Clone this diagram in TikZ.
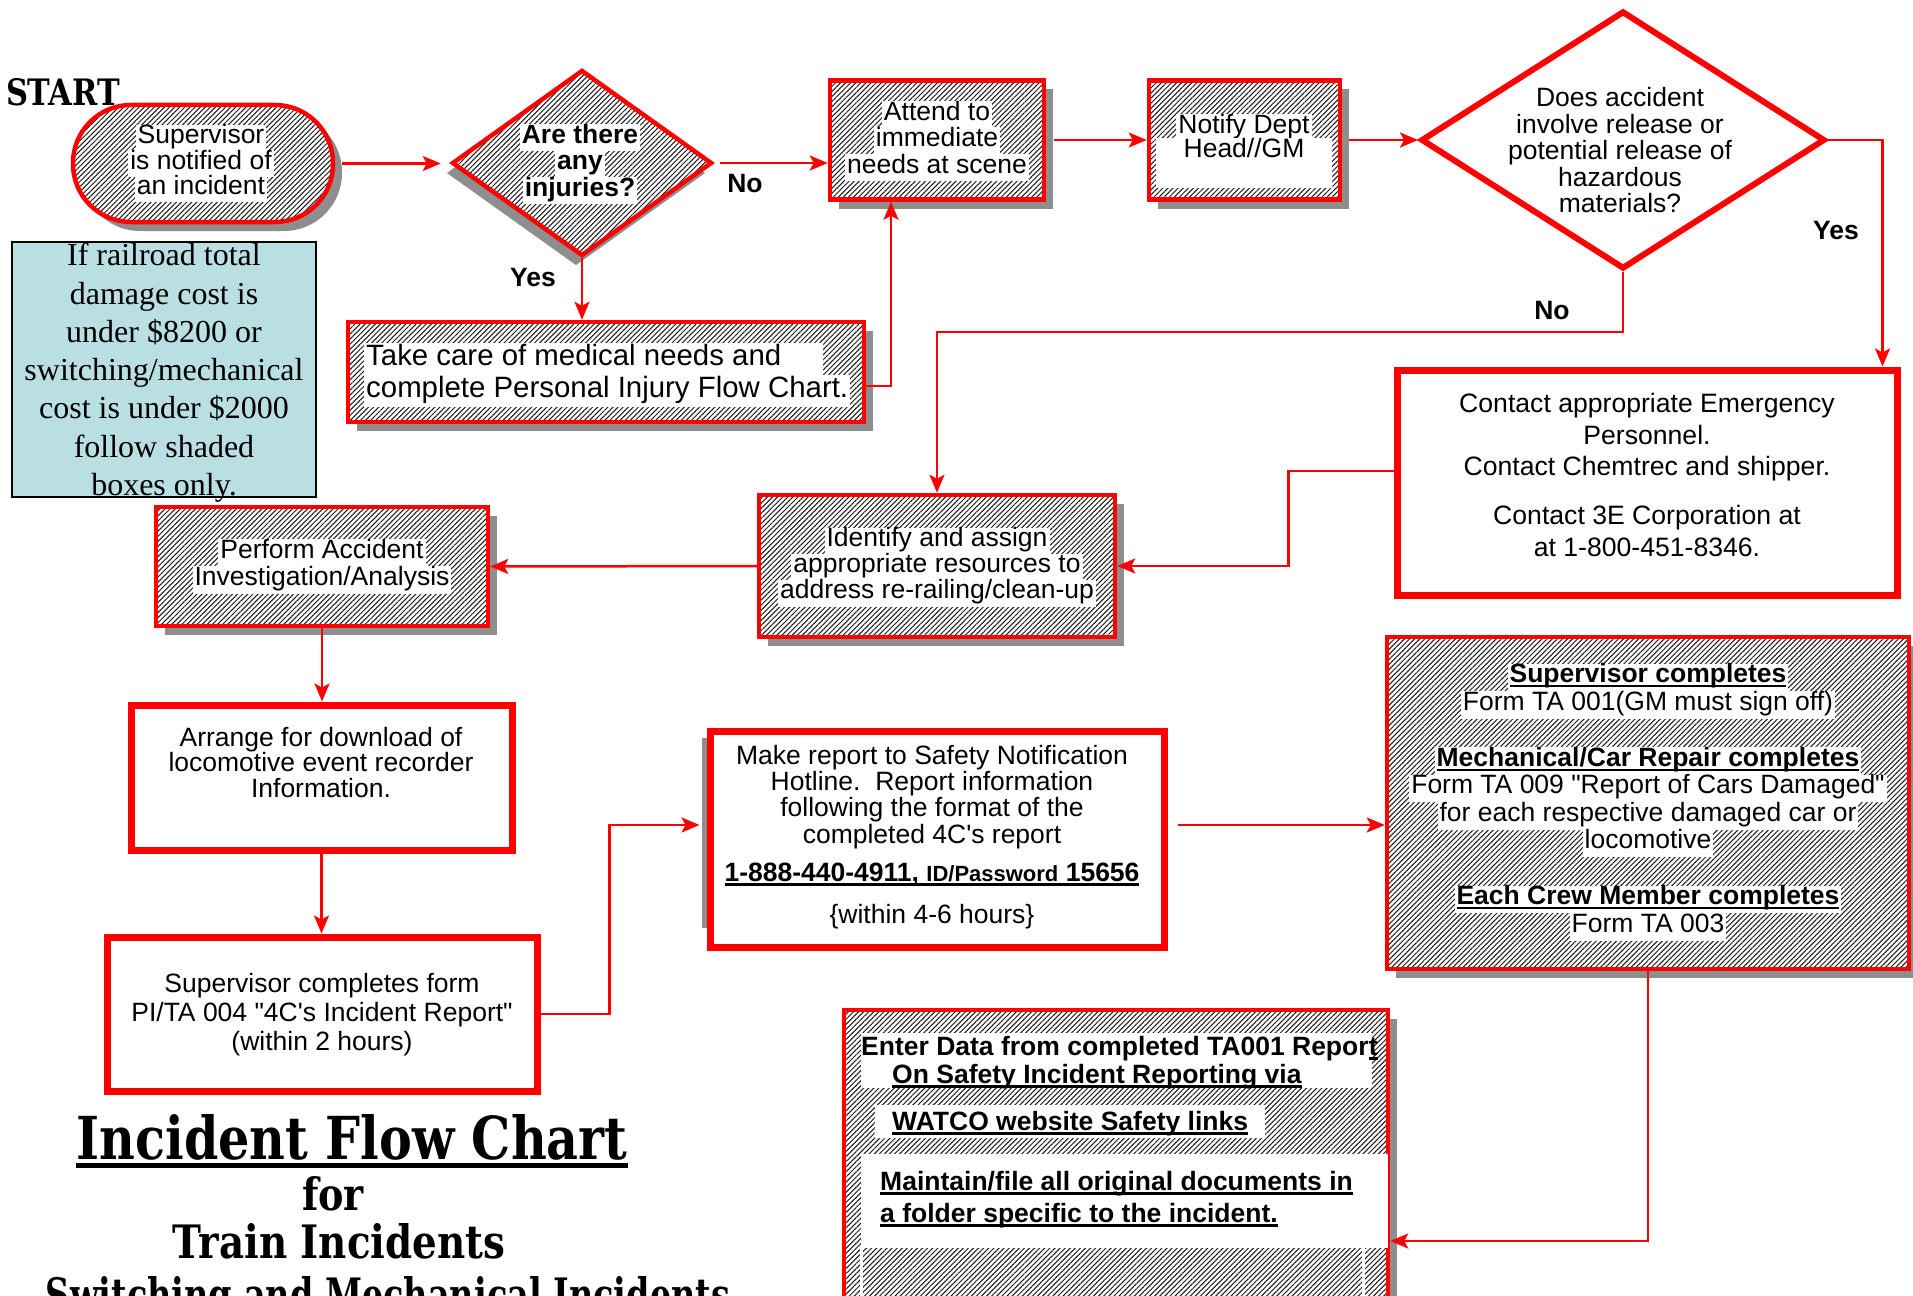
\documentclass[tikz,border=0pt]{standalone}
\usepackage{fontspec}
\setmainfont{Liberation Sans}
\newfontfamily\timesf{Liberation Serif}
\newfontfamily\titlef{DejaVu Serif}
\usepackage{graphicx}
\usetikzlibrary{shapes.geometric,shadows,patterns.meta,arrows.meta,calc}
\definecolor{rd}{RGB}{255,0,0}
\definecolor{shgray}{RGB}{142,142,142}
\definecolor{cyanbg}{RGB}{185,223,227}
\definecolor{hatchc}{RGB}{25,25,25}
\newcommand\wb[1]{{\fboxsep=0pt\colorbox{white}{\hspace{2pt}\strut#1\hspace{2pt}}}}
\newcommand\ulx[1]{{\setbox0=\hbox{#1}\rlap{\rule[-4.5pt]{\wd0}{2.2pt}}\box0}}
\newcommand\setfs[2]{\fontsize{#1}{#2}\selectfont\lineskiplimit=-60pt\relax}
\tikzset{
  shd/.style={drop shadow={shadow xshift=9pt,shadow yshift=-9pt,fill=shgray,opacity=1}},
  shdl/.style={drop shadow={shadow xshift=-6pt,shadow yshift=-10pt,fill=shgray,opacity=1}},
  hatch/.style={preaction={fill=white},pattern={Lines[angle=45,distance=3.6pt,line width=1.0pt]},pattern color=hatchc},
  hbox/.style={rectangle, draw=rd, line width=4.5pt, shd, hatch, inner sep=0pt},
  wbox/.style={rectangle, draw=rd, line width=7pt, fill=white, inner sep=0pt},
  txt/.style={inner sep=0pt, align=center, font=\setfs{26.5}{26.5}},
  lbl/.style={inner sep=0pt, font=\setfs{26.5}{26.5}\bfseries},
  conn/.style={draw=rd, line width=2.5pt, -{Stealth[length=18pt,width=15pt,inset=4pt]}},
  ttl/.style={inner sep=0pt, font=\titlef\bfseries\setfs{40}{40}},
}
\begin{document}
\begin{tikzpicture}[x=1pt,y=-1pt]
\useasboundingbox (0,0) rectangle (1913,1295);
\clip (0,0) rectangle (1913,1295);

% ---------- boxes ----------
\node[hbox, rounded corners=58pt, minimum width=260pt, minimum height=117pt] (sup) at (203,163.5) {};
\node[diamond, draw=rd, line width=4.5pt, shdl, hatch, minimum width=260pt, minimum height=186pt, inner sep=0pt] (inj) at (582,163) {};
\node[hbox, minimum width=214pt, minimum height=119pt] (attend) at (937,140) {};
\node[hbox, minimum width=191pt, minimum height=119pt] (notify) at (1244.5,140) {};
\node[diamond, draw=rd, line width=6pt, fill=white, minimum width=404pt, minimum height=258pt, inner sep=0pt] (haz) at (1623,140) {};
\node[hbox, minimum width=516pt, minimum height=100pt] (take) at (606,372) {};
\node[rectangle, draw=black, line width=2pt, fill=cyanbg, minimum width=304pt, minimum height=255pt] (note) at (164,369.5) {};
\node[wbox, minimum width=500pt, minimum height=225pt] (contact) at (1647,482.5) {};
\node[hbox, minimum width=356pt, minimum height=142pt] (ident) at (937,566) {};
\node[hbox, minimum width=332pt, minimum height=119pt] (perform) at (322,566.5) {};
\node[wbox, minimum width=381pt, minimum height=145pt] (arrange) at (321.5,777.5) {};
\node[wbox, minimum width=430pt, minimum height=154pt] (supform) at (322,1014) {};
\fill[shgray] (702,738) rectangle (709,928);
\node[wbox, minimum width=454pt, minimum height=216pt] (report) at (937,839) {};
\node[hbox, minimum width=522pt, minimum height=332pt] (forms) at (1648,803) {};
\node[hbox, minimum width=544pt, minimum height=310pt] (enter) at (1116,1165) {};

% white areas inside the data-entry box
\fill[white] (861,1033) rectangle (1372,1088);
\fill[white] (875,1105) rectangle (1265,1138);
\fill[white] (861,1154) rectangle (1388,1248);
\fill[white] (860,1248) rectangle (862.5,1300);
\fill[white] (1362,1248) rectangle (1364.5,1300);

% ---------- texts ----------
\node[ttl, anchor=base] (start) at (63,106) {\resizebox{114pt}{27pt}{START}};

\node[txt, font=\setfs{26.5}{25.5}] (supT) at (201,163.5) {\wb{Supervisor}\\\wb{is notified of}\\\wb{an incident}};
\node[txt, font=\setfs{26.5}{26.5}\bfseries] (injT) at (580,164) {\wb{Are there}\\\wb{any}\\\wb{injuries?}};
\node[txt] (attT) at (937,141) {\wb{Attend to}\\\wb{immediate}\\\wb{needs at scene}};
\node[txt, font=\setfs{26.5}{24}] (notT) at (1244,151) {\wb{Notify Dept}\\\wb{\makebox[172pt]{Head//GM}}\\\wb{\hspace{172pt}}};
\node[txt] (hazT) at (1620,154) {\strut Does accident\\ \strut involve release or\\ \strut potential release of\\ \strut hazardous\\ \strut materials?};
\node[inner sep=0pt, align=left, anchor=west, font=\setfs{29.4}{32}] (takeT) at (364,375) {\wb{Take care of medical needs and\hspace{40pt}}\\\wb{complete Personal Injury Flow Chart.}};
\node[inner sep=0pt, align=center, font=\timesf\setfs{32}{38.3}] (noteT) at (164,373) {\strut If railroad total\\ \strut damage cost is\\ \strut under \$8200 or\\ \strut switching/mechanical\\ \strut cost is under \$2000\\ \strut follow shaded\\ \strut boxes only.};
\node[txt, font=\setfs{26.6}{31.5}] (contT) at (1647,478) {\strut Contact appropriate Emergency\\ \strut Personnel.\\ \strut Contact Chemtrec and shipper.\\[17.5pt] \strut Contact 3E Corporation at\\ \strut at 1-800-451-8346.};
\node[txt, font=\setfs{26.5}{26}] (idT) at (937,567) {\wb{Identify and assign}\\\wb{appropriate resources to}\\\wb{address re-railing/clean-up}};
\node[txt, font=\setfs{26.5}{27}] (perT) at (322,566.5) {\wb{Perform Accident}\\\wb{Investigation/Analysis}};
\node[txt, font=\setfs{26.5}{25.5}] (arrT) at (321,766) {\strut Arrange for download of\\ \strut locomotive event recorder\\ \strut Information.};
\node[txt, font=\setfs{26.5}{29}] (supfT) at (322,1016) {\strut Supervisor completes form\\ \strut PI/TA 004 \textquotedbl 4C\textquotesingle s Incident Report\textquotedbl\\ \strut (within 2 hours)};
\node[txt, font=\setfs{26.5}{26.3}] (repT) at (932,838) {\strut Make report to Safety Notification\\ \strut Hotline.\ \ Report information\\ \strut following the format of the\\ \strut completed 4C\textquotesingle s report\\[11.7pt] \strut{\bfseries\ulx{1-888-440-4911, {\setfs{22}{22}ID/Password} 15656}}\\[15.7pt] \strut\{within 4-6 hours\}};
\node[txt, font=\setfs{26.5}{27.5}] (formsT) at (1648,802) {\wb{\bfseries\ulx{Supervisor completes}}\\\wb{Form TA 001(GM must sign off)}\\[28.5pt]\wb{\bfseries\ulx{Mechanical/Car Repair completes}}\\\wb{Form TA 009 \textquotedbl Report of Cars Damaged\textquotedbl}\\\wb{for each respective damaged car or}\\\wb{locomotive}\\[28.5pt]\wb{\bfseries\ulx{Each Crew Member completes}}\\\wb{Form TA 003}};

\node[lbl, anchor=base west] (e1) at (861,1055) {Enter Data from completed TA001 Repor\ulx{t}};
\node[lbl, anchor=base west] (e2) at (892,1083) {\ulx{On Safety Incident Reporting via}};
\node[lbl, anchor=base west] (e3) at (892,1130) {\ulx{WATCO website Safety links}};
\node[lbl, anchor=base west] (e4) at (880,1190) {\ulx{Maintain/file all original documents in}};
\node[lbl, anchor=base west] (e5) at (880,1222) {\ulx{a folder specific to the incident.}};

% labels
\node[lbl] (lNo1) at (745,184) {No};
\node[lbl] (lYes1) at (533,278) {Yes};
\node[lbl] (lYes2) at (1836,231) {Yes};
\node[lbl] (lNo2) at (1552,311) {No};

% title
\node[ttl, anchor=base] (title) at (352,1159) {\resizebox{551pt}{45pt}{Incident Flow Chart}};
\draw[line width=5pt] ([yshift=-6.5pt]title.base west) -- ([yshift=-6.5pt]title.base east);
\node[ttl, anchor=base] (for) at (333,1210) {\resizebox{62pt}{34pt}{for}};
\node[ttl, anchor=base] (train) at (339,1258) {\resizebox{333pt}{35pt}{Train Incidents}};
\node[ttl, anchor=base] (switch) at (388,1311) {\resizebox{684pt}{35pt}{Switching and Mechanical Incidents}};

% ---------- connectors ----------
\draw[conn, shorten <=8pt, shorten >=9pt] (sup.east) -- (sup.east -| inj.west);
\draw[conn, shorten <=6pt] (inj.east) -- (inj.east -| attend.west);
\draw[conn] (inj.south) -- (inj.south |- take.north);
\draw[conn] ([yshift=-14pt]take.east) -| ([xshift=-46pt]attend.south);
\draw[conn, shorten <=8pt] (attend.east) -- (notify.west);
\draw[conn, shorten <=7pt] (notify.east) -- (haz.west);
\draw[conn] (haz.east) -| ([xshift=-18pt]contact.north east);
\draw[conn] (haz.south) -- ++(0,60) -| (ident.north);
\draw[conn] ([yshift=11.5pt]contact.west) -- ++(-105,0) |- (ident.east);
\draw[conn] (ident.west) -- (perform.east);
\draw[conn] (perform.south) -- (perform.south |- arrange.north);
\draw[conn] (arrange.south) -- (arrange.south |- supform.north);
\draw[conn, shorten >=7pt] (supform.east) -- ++(69,0) |- ([yshift=14pt]report.west);
\draw[conn, shorten <=10pt] ([yshift=14pt]report.east) -- ([yshift=14pt]report.east -| forms.west);
\draw[conn] (forms.south) |- ([yshift=-76pt]enter.east);
\end{tikzpicture}
\end{document}
